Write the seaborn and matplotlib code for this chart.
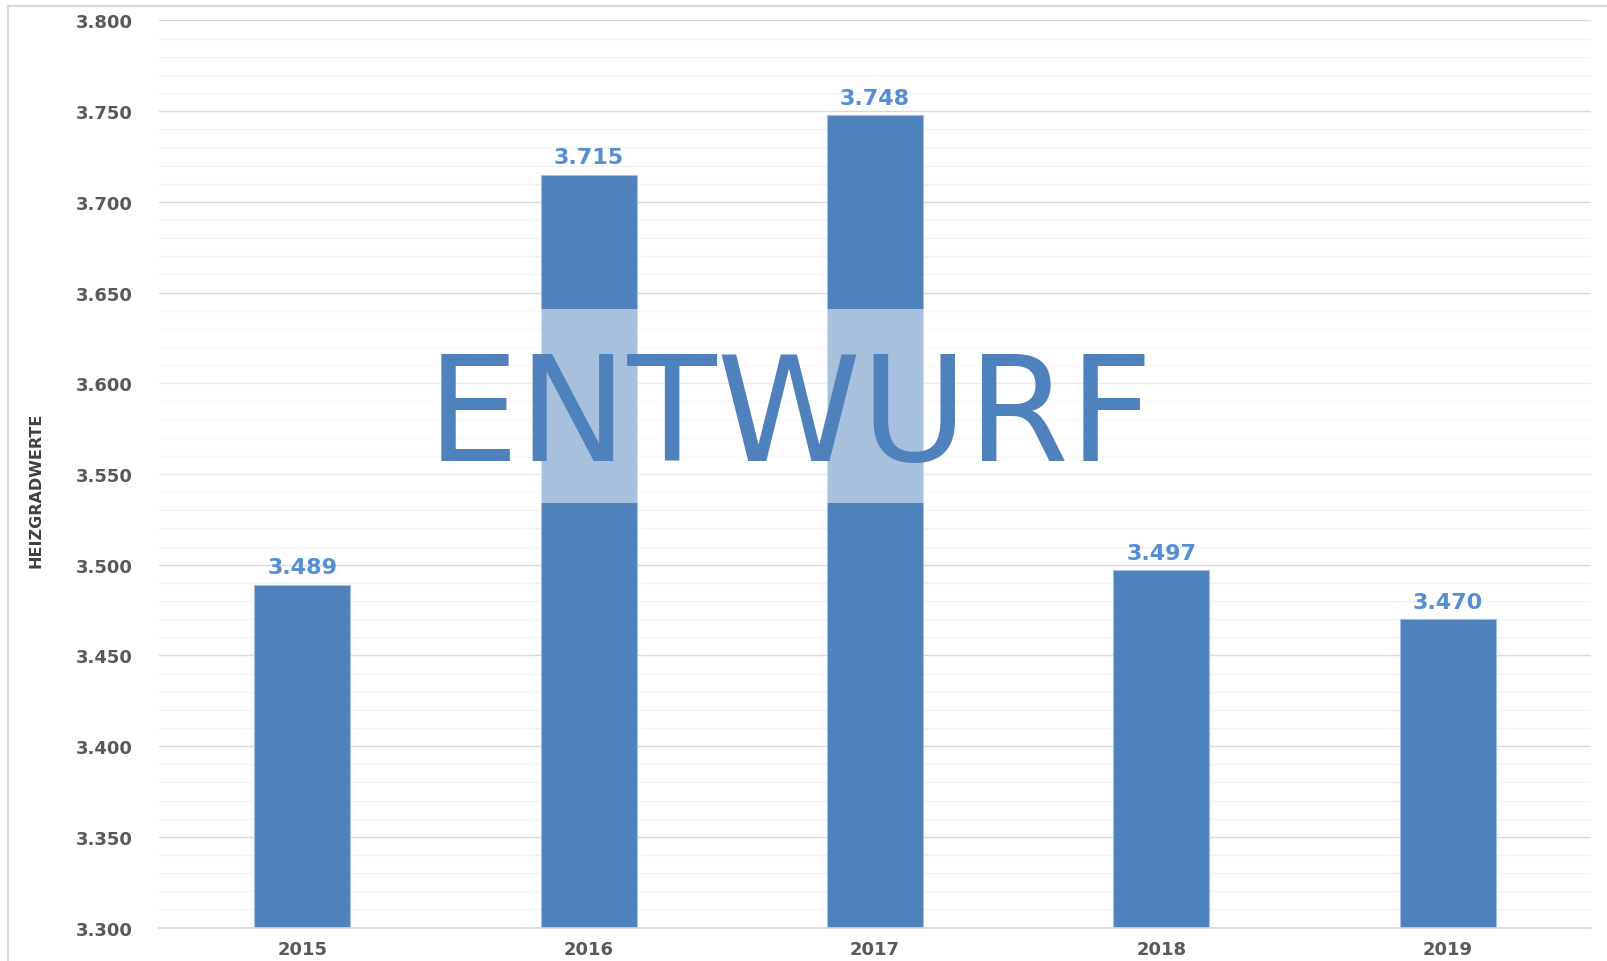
import numpy as np
import pandas as pd
import matplotlib
matplotlib.use('Agg')
import matplotlib.pyplot as plt
from matplotlib.lines import Line2D
from matplotlib.ticker import MultipleLocator, FuncFormatter
import seaborn as sns

# Daten
years = ['2015', '2016', '2017', '2018', '2019']
heizgradwerte = [3489, 3715, 3748, 3497, 3470]
y_label = 'HEIZGRADWERTE'
watermark = 'ENTWURF'

BAR_COLOR = '#4F81BD'
LABEL_COLOR = '#558ED5'
TICK_COLOR = '#595959'

df = pd.DataFrame({'Jahr': years, 'Wert': [v / 1000 for v in heizgradwerte]})

sns.set_theme(style='white')
plt.rcParams['font.family'] = ['DejaVu Sans']

fig = plt.figure(figsize=(16.07, 9.62), dpi=100)
ax = fig.add_axes([0.099, 0.0347, 0.891, 0.943])

sns.barplot(data=df, x='Jahr', y='Wert', color=BAR_COLOR, saturation=1,
            width=0.335, edgecolor='#A7BFDD', linewidth=0.8, ax=ax, zorder=2)

ax.set_ylim(3.3, 3.8)
ax.set_xlim(-0.5, 4.5)
ax.yaxis.set_major_locator(MultipleLocator(0.05))
ax.yaxis.set_minor_locator(MultipleLocator(0.01))
ax.yaxis.set_major_formatter(FuncFormatter(lambda v, p: f'{v:.3f}'))
ax.grid(axis='y', which='major', color='#D9D9D9', linewidth=1.0, zorder=0)
ax.grid(axis='y', which='minor', color='#F2F2F2', linewidth=1.0, zorder=0)
ax.set_axisbelow(True)
for s in ['top', 'right', 'left']:
    ax.spines[s].set_visible(False)
ax.spines['bottom'].set_color('#D9D9D9')
ax.spines['bottom'].set_linewidth(1.2)
ax.tick_params(axis='both', which='both', length=0)
ax.tick_params(axis='y', pad=19)
ax.tick_params(axis='x', pad=9)
for lab in ax.get_yticklabels() + ax.get_xticklabels():
    lab.set_fontsize(13)
    lab.set_fontweight('bold')
    lab.set_color(TICK_COLOR)
ax.set_xlabel('')
ax.set_ylabel('')

# Werte über den Balken
for i, v in enumerate(heizgradwerte):
    ax.text(i, v / 1000 + 0.004, f'{v/1000:.3f}', ha='center', va='bottom',
            fontsize=16, fontweight='bold', color=LABEL_COLOR, zorder=5)

# Achsentitel (schmale Schrift)
fig.text(0.0225, 0.49, y_label, rotation=90, ha='center', va='center',
         fontsize=11.5, fontweight='bold', color='#404040',
         family=['Liberation Sans Narrow', 'DejaVu Sans'])

# Wasserzeichen
ax.axhspan(3.534, 3.641, color='white', alpha=0.5, linewidth=0, zorder=3)
fig.text(0.4915, 0.5625, watermark, ha='center', va='center', fontsize=105,
         color=BAR_COLOR, zorder=6)

# Rahmen links/oben
fig.add_artist(Line2D([0.005, 0.005], [0, 0.993], color='#D9D9D9', lw=1.5))
fig.add_artist(Line2D([0.005, 1.0], [0.993, 0.993], color='#D9D9D9', lw=1.5))

plt.savefig('out.png', dpi=100)
plt.close()
